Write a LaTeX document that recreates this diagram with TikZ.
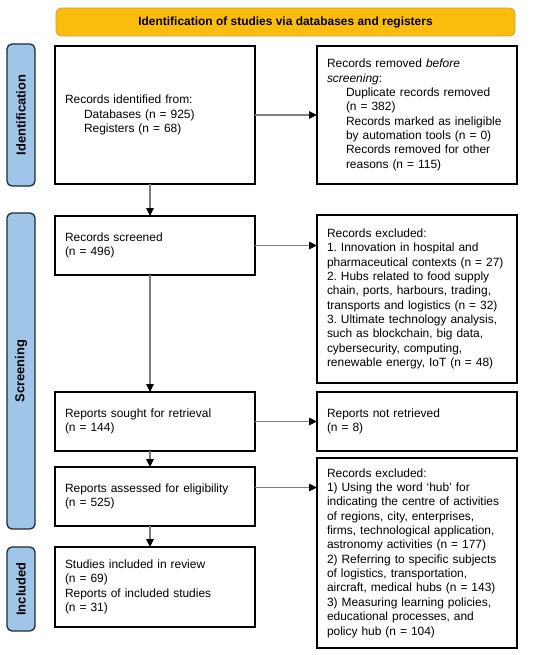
\documentclass[tikz,border=0pt]{standalone}
\usepackage{fontspec}
\setmainfont{Liberation Sans}
\usetikzlibrary{arrows.meta}
\definecolor{gold}{HTML}{FBBD0D}
\definecolor{goldedge}{HTML}{C9A23C}
\definecolor{sideblue}{HTML}{9FC5E8}
\definecolor{sideedge}{HTML}{1E2B38}
\definecolor{arrowgray}{HTML}{7F7F7F}
\frenchspacing
\begin{document}
\begin{tikzpicture}[x=1bp,y=-1bp,
  every node/.style={font=\fontsize{12}{14.4}\selectfont, outer sep=0pt},
  box/.style={draw=black, line width=1.1bp, inner xsep=10bp, inner ysep=0pt,
    text width=180bp, align=left, anchor=north west},
  side/.style={draw=sideedge, fill=sideblue, line width=1.3bp, rounded corners=5bp,
    rotate=90, minimum height=28bp, inner sep=0pt,
    font=\fontsize{13}{15}\selectfont\bfseries},
  titlebar/.style={draw=goldedge, fill=gold, line width=0.8bp, rounded corners=5bp,
    minimum width=459bp, minimum height=28bp, inner sep=0pt,
    font=\fontsize{12}{14}\selectfont\bfseries},
  arr/.style={draw=arrowgray, line width=1.1bp, -{Triangle[length=8bp,width=7.5bp,color=black]}}
]
\useasboundingbox (0,0) rectangle (550,655);

\node[titlebar] (title) at (285.5,22) {Identification of studies via databases and registers};

\node[side, minimum width=142bp] (sid) at (21,115) {Identification};
\node[side, minimum width=316bp] (sscr) at (21,371) {Screening};
\node[side, minimum width=84bp] (sinc) at (21,589) {Included};

\node[box, minimum height=138bp] (b1) at (55,46) {Records identified from:\\
\hspace*{19bp}Databases (n = 925)\\
\hspace*{19bp}Registers (n = 68)};

\node[box, minimum height=138bp] (r1) at (317,46) {Records removed \textit{before}\\
\textit{screening}:\\
\hspace*{19bp}Duplicate records removed\\
\hspace*{19bp}(n = 382)\\
\hspace*{19bp}Records marked as ineligible\\
\hspace*{19bp}by automation tools (n = 0)\\
\hspace*{19bp}Records removed for other\\
\hspace*{19bp}reasons (n = 115)};

\node[box, minimum height=59bp] (b2) at (55,216) {Records screened\\(n = 496)};

\node[box, minimum height=168bp] (r2) at (317,215) {Records excluded:\\
1. Innovation in hospital and\\
pharmaceutical contexts (n = 27)\\
2. Hubs related to food supply\\
chain, ports, harbours, trading,\\
transports and logistics (n = 32)\\
3. Ultimate technology analysis,\\
such as blockchain, big data,\\
cybersecurity, computing,\\
renewable energy, IoT (n = 48)};

\node[box, minimum height=59bp] (b3) at (55,392) {Reports sought for retrieval\\(n = 144)};
\node[box, minimum height=59bp] (r3) at (317,392) {Reports not retrieved\\(n = 8)};

\node[box, minimum height=59bp] (b4) at (55,467) {Reports assessed for eligibility\\(n = 525)};

\node[box, minimum height=190bp] (r4) at (317,458) {Records excluded:\\
1) Using the word `hub' for\\
indicating the centre of activities\\
of regions, city, enterprises,\\
firms, technological application,\\
astronomy activities (n = 177)\\
2) Referring to specific subjects\\
of logistics, transportation,\\
aircraft, medical hubs (n = 143)\\
3) Measuring learning policies,\\
educational processes, and\\
policy hub (n = 104)};

\node[box, minimum height=80bp] (b5) at (55,547) {Studies included in review\\
(n = 69)\\
Reports of included studies\\
(n = 31)};

\coordinate (ax) at (150,0);
\draw[arr] (b1.east) -- (b1.east -| r1.west);
\draw[arr] (b2.east) -- (b2.east -| r2.west);
\draw[arr] (b3.east) -- (b3.east -| r3.west);
\draw[arr] ([yshift=9bp]b4.east) -- ([yshift=9bp]b4.east -| r4.west);
\draw[arr] (b1.south -| ax) -- (b2.north -| ax);
\draw[arr] (b2.south -| ax) -- (b3.north -| ax);
\draw[arr] (b3.south -| ax) -- (b4.north -| ax);
\draw[arr] (b4.south -| ax) -- (b5.north -| ax);
\end{tikzpicture}
\end{document}
